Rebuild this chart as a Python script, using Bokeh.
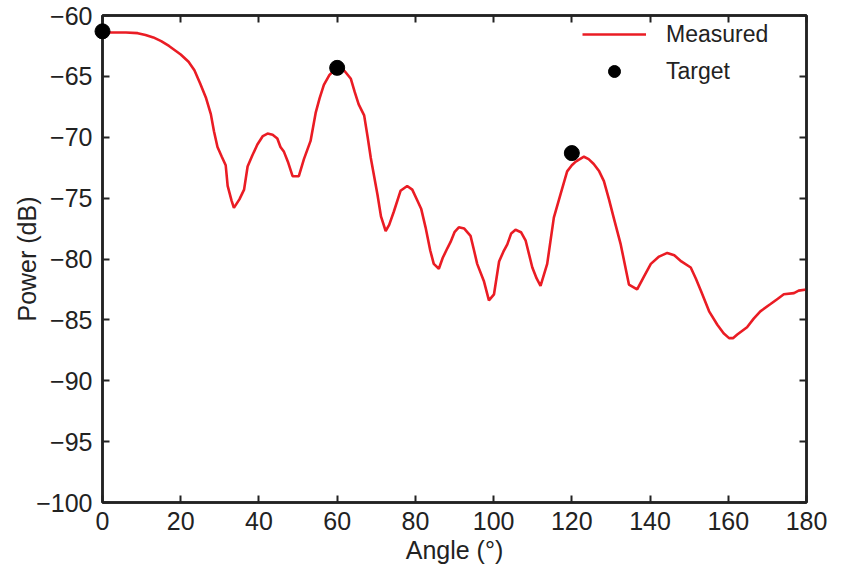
from bokeh.plotting import figure
from bokeh.models import Range1d, LinearAxis, Legend, LegendItem, FixedTicker
from bokeh.embed import file_html
from bokeh.resources import INLINE

angle = [0, 3, 6, 9, 11, 13, 15, 17, 20, 22, 23.5, 25, 26.5, 27.7, 28.5, 29.4, 30.5, 31.5, 32, 33,
         33.6, 35, 36.2, 37.1, 38.3, 39.6, 41, 42.2, 43.5, 44.7, 45.5, 46.4, 47.5, 48.6, 50.2, 51.5,
         53.2, 54.5, 55.5, 56.6, 58, 59.5, 60.9, 62, 63.5, 64.5, 65.5, 66.9, 67.8, 68.6, 70.3, 71.2,
         72.4, 73.3, 74.5, 76.2, 77.9, 79.2, 80.5, 81.5, 82.6, 83.8, 84.7, 86, 87, 88.2, 89, 90,
         91.1, 92.5, 94.1, 95, 95.8, 97.5, 98.8, 100.1, 101.4, 102.5, 103.5, 104.5, 105.6, 107,
         108.2, 109.9, 111, 112, 113.7, 115.4, 117.1, 118.8, 120, 121, 123.1, 124.3, 125.6, 127,
         128.2, 129.5, 130.7, 132.5, 134.6, 136.7, 138.5, 140.2, 142.3, 144.4, 146.2, 148, 150.4,
         151.7, 153, 155.1, 157.2, 158.8, 160.2, 161.2, 162.3, 164.8, 166.5, 168.2, 170.8, 172.5,
         174.2, 176.8, 178, 180]
measured = [-61.4, -61.4, -61.4, -61.45, -61.6, -61.8, -62.1, -62.5, -63.2, -63.8, -64.5, -65.6,
            -66.8, -68.1, -69.5, -70.8, -71.6, -72.3, -74.0, -75.2,
            -75.8, -75.1, -74.3, -72.4, -71.5, -70.6, -69.9, -69.7, -69.8, -70.1, -70.8, -71.2,
            -72.1, -73.2, -73.2, -71.8,
            -70.3, -68.0, -66.8, -65.7, -64.9, -64.4, -64.3, -64.6, -65.2, -66.3, -67.3, -68.2,
            -70.0, -71.7, -74.7, -76.5,
            -77.7, -77.2, -76.1, -74.4, -74.0, -74.3, -75.2, -75.9, -77.4, -79.3, -80.4, -80.8,
            -79.9, -79.1, -78.6, -77.8,
            -77.4, -77.5, -78.1, -79.3, -80.4, -81.8, -83.4, -82.9, -80.2, -79.4, -78.8, -77.9,
            -77.6, -77.8,
            -78.5, -80.7, -81.6, -82.2, -80.4, -76.6, -74.7, -72.8, -72.3, -72.0, -71.6, -71.8,
            -72.2, -72.8,
            -73.6, -75.1, -76.6, -78.8, -82.1, -82.5, -81.4, -80.4, -79.8, -79.5, -79.7, -80.2,
            -80.7,
            -81.6, -82.6, -84.3, -85.4, -86.1, -86.5, -86.5, -86.2, -85.6, -84.9, -84.3, -83.7,
            -83.3,
            -82.9, -82.8, -82.6, -82.5]

target_angle = [0, 60, 120]
target_power = [-61.3, -64.3, -71.3]

x_ticks = [0, 20, 40, 60, 80, 100, 120, 140, 160, 180]
y_ticks = [-100, -95, -90, -85, -80, -75, -70, -65, -60]
y_tick_labels = ["\u2212100", "\u221295", "\u221290", "\u221285", "\u221280", "\u221275",
                 "\u221270", "\u221265", "\u221260"]

FONT = "Liberation Sans"
DARK = "#222222"

p = figure(width=828, height=567, output_backend="svg", toolbar_location=None,
           x_range=Range1d(0, 180), y_range=Range1d(-100, -60),
           min_border_left=102, min_border_right=22, min_border_top=15, min_border_bottom=65)
p.grid.visible = False
p.outline_line_color = DARK
p.outline_line_width = 2.5

line_r = p.line(angle, measured, line_color="#ea1c24", line_width=2.6)
dot_r = p.scatter(target_angle, target_power, size=15, fill_color="black", line_color="black",
                  level="overlay")

for ax in p.xaxis:
    ax.ticker = FixedTicker(ticks=x_ticks)
    ax.axis_label = "Angle (\u00b0)"
for ax in p.yaxis:
    ax.ticker = FixedTicker(ticks=y_ticks)
    ax.major_label_overrides = {t: l for t, l in zip(y_ticks, y_tick_labels)}
    ax.axis_label = "Power (dB)"

top = LinearAxis(ticker=FixedTicker(ticks=x_ticks),
                 major_label_overrides={t: "" for t in x_ticks})
right = LinearAxis(ticker=FixedTicker(ticks=y_ticks),
                   major_label_overrides={t: "" for t in y_ticks})
for ax in (top, right):
    ax.major_label_standoff = 0
p.add_layout(top, "above")
p.add_layout(right, "right")

for ax in p.axis:
    ax.axis_line_color = DARK
    ax.axis_line_width = 2.5
    ax.major_tick_line_color = DARK
    ax.major_tick_line_width = 2
    ax.major_tick_in = 7
    ax.major_tick_out = 0
    ax.minor_tick_line_color = None
    ax.major_label_text_font = FONT
    ax.major_label_text_color = DARK
    ax.axis_label_text_font = FONT
    ax.axis_label_text_font_style = "normal"
    ax.axis_label_text_color = DARK

p.below[0].major_label_text_font_size = "25px"
p.below[0].major_label_standoff = 9
p.below[0].axis_label_text_font_size = "25px"
p.below[0].axis_label_standoff = 3
p.left[0].major_label_text_font_size = "25px"
p.left[0].major_label_standoff = 10
p.left[0].axis_label_text_font_size = "25px"
p.left[0].axis_label_standoff = -8

legend = Legend(items=[LegendItem(label="Measured", renderers=[line_r]),
                       LegendItem(label="Target", renderers=[dot_r])],
                location=(480, 416))
legend.border_line_color = None
legend.background_fill_alpha = 0
legend.padding = 0
legend.margin = 0
legend.glyph_width = 64
legend.glyph_height = 30
legend.label_height = 30
legend.spacing = 7
legend.label_standoff = 20
legend.label_text_font = FONT
legend.label_text_font_size = "23px"
legend.label_text_baseline = "hanging"
legend.label_text_color = DARK
p.add_layout(legend, "center")

open("out.html", "w").write(file_html(p, INLINE))
